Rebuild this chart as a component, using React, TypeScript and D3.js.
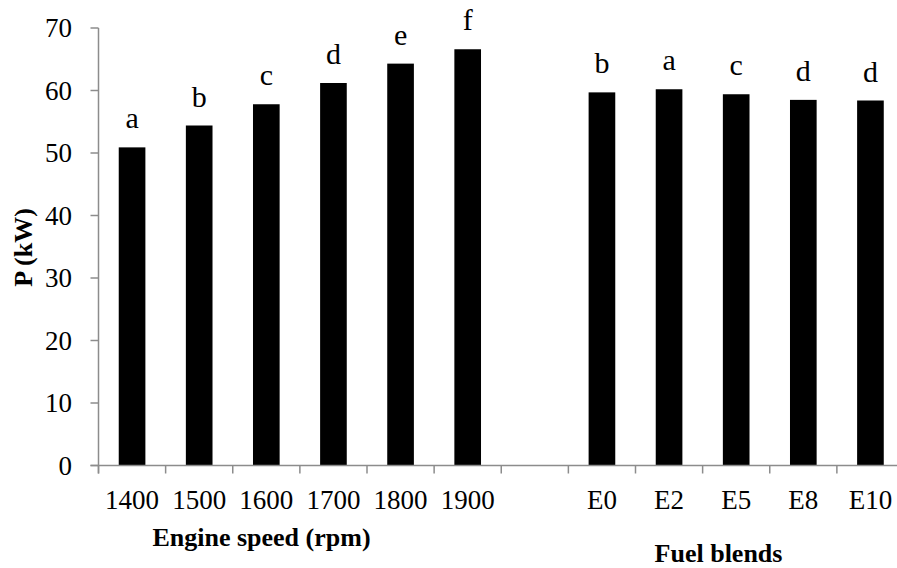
import React from "react";
import * as d3 from "d3";

const categories = ["1400", "1500", "1600", "1700", "1800", "1900", "", "E0", "E2", "E5", "E8", "E10"];
const values: (number | null)[] = [50.9, 54.4, 57.8, 61.2, 64.3, 66.6, null, 59.7, 60.2, 59.4, 58.5, 58.4];
const groupLetters = ["a", "b", "c", "d", "e", "f", "", "b", "a", "c", "d", "d"];
const yTicks = [0, 10, 20, 30, 40, 50, 60, 70];

const W = 897;
const H = 568;
const left = 98.5;
const right = 904;
const y0 = 465.5;
const yTop = 28;
const FONT = "Liberation Serif, DejaVu Serif, Times New Roman, serif";

export default function App() {
  const keys = categories.map((c, i) => i + "|" + c);
  const x = d3.scaleBand<string>().domain(keys).range([left, right]).padding(0);
  const y = d3.scaleLinear().domain([0, 70]).range([y0, yTop]);
  const bw = x.bandwidth() * 0.397;
  const axisColor = "#8c8c8c";
  const tickXs = keys.map((k) => x(k) as number).concat([right]);
  const ts = { fontFamily: FONT };

  return (
    <svg width={W} height={H} style={{ position: "absolute", left: 0, top: 0, background: "#fff" }}>
      <rect x={0} y={0} width={W} height={H} fill="#fff" />
      {keys.map((k, i) =>
        values[i] == null ? null : (
          <rect
            key={k}
            x={(x(k) as number) + x.bandwidth() / 2 - bw / 2}
            y={y(values[i] as number)}
            width={bw}
            height={y0 - y(values[i] as number)}
            fill="#000"
          />
        )
      )}
      {keys.map((k, i) =>
        values[i] == null ? null : (
          <text
            key={"l" + k}
            x={(x(k) as number) + x.bandwidth() / 2}
            y={y(values[i] as number) - 19}
            textAnchor="middle"
            style={ts}
            fontSize={30}
            fill="#000"
          >
            {groupLetters[i]}
          </text>
        )
      )}
      <line x1={left} x2={left} y1={y(70)} y2={y0 + 8} stroke={axisColor} strokeWidth={1.5} />
      {yTicks.map((t) => (
        <g key={"yt" + t}>
          <line x1={left - 8} x2={left} y1={y(t)} y2={y(t)} stroke={axisColor} strokeWidth={1.5} />
          <text x={72} y={y(t)} dy="0.34em" textAnchor="end" style={ts} fontSize={27} fill="#000">
            {t}
          </text>
        </g>
      ))}
      <line x1={left - 8} x2={right} y1={y0} y2={y0} stroke={axisColor} strokeWidth={1.5} />
      {tickXs.map((tx, i) => (
        <line key={"xt" + i} x1={tx} x2={tx} y1={y0} y2={y0 + 8} stroke={axisColor} strokeWidth={1.5} />
      ))}
      {keys.map((k, i) => (
        <text
          key={"xl" + k}
          x={(x(k) as number) + x.bandwidth() / 2}
          y={508.5}
          textAnchor="middle"
          style={ts}
          fontSize={27}
          fill="#000"
        >
          {categories[i]}
        </text>
      ))}
      <text x={261.5} y={546} textAnchor="middle" style={ts} fontWeight="bold" fontSize={26} fill="#000">
        Engine speed (rpm)
      </text>
      <text x={718.5} y={562} textAnchor="middle" style={ts} fontWeight="bold" fontSize={26} fill="#000">
        Fuel blends
      </text>
      <text
        transform="translate(32,247.5) rotate(-90)"
        textAnchor="middle"
        style={ts}
        fontWeight="bold"
        fontSize={26}
        fill="#000"
      >
        P (kW)
      </text>
    </svg>
  );
}
